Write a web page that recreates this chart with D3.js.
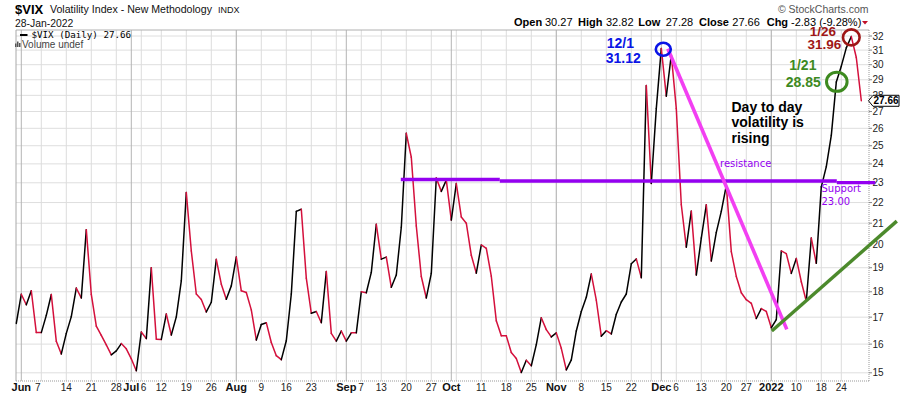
<!DOCTYPE html>
<html><head><meta charset="utf-8">
<script src="https://cdn.jsdelivr.net/npm/d3@7/dist/d3.min.js"></script>
<style>body{margin:0;background:#fff} svg{display:block;font-family:"Liberation Sans",Arial,sans-serif}</style>
</head><body><svg id="c" width="900" height="396"></svg>
<script>
// ---------- DATA ----------
const dates = ("2021-05-28 " +
 "2021-06-01 2021-06-02 2021-06-03 2021-06-04 2021-06-07 2021-06-08 2021-06-09 2021-06-10 2021-06-11 2021-06-14 2021-06-15 2021-06-16 2021-06-17 2021-06-18 2021-06-21 2021-06-22 2021-06-23 2021-06-24 2021-06-25 2021-06-28 2021-06-29 2021-06-30 " +
 "2021-07-01 2021-07-02 2021-07-06 2021-07-07 2021-07-08 2021-07-09 2021-07-12 2021-07-13 2021-07-14 2021-07-15 2021-07-16 2021-07-19 2021-07-20 2021-07-21 2021-07-22 2021-07-23 2021-07-26 2021-07-27 2021-07-28 2021-07-29 2021-07-30 " +
 "2021-08-02 2021-08-03 2021-08-04 2021-08-05 2021-08-06 2021-08-09 2021-08-10 2021-08-11 2021-08-12 2021-08-13 2021-08-16 2021-08-17 2021-08-18 2021-08-19 2021-08-20 2021-08-23 2021-08-24 2021-08-25 2021-08-26 2021-08-27 2021-08-30 2021-08-31 " +
 "2021-09-01 2021-09-02 2021-09-03 2021-09-07 2021-09-08 2021-09-09 2021-09-10 2021-09-13 2021-09-14 2021-09-15 2021-09-16 2021-09-17 2021-09-20 2021-09-21 2021-09-22 2021-09-23 2021-09-24 2021-09-27 2021-09-28 2021-09-29 2021-09-30 " +
 "2021-10-01 2021-10-04 2021-10-05 2021-10-06 2021-10-07 2021-10-08 2021-10-11 2021-10-12 2021-10-13 2021-10-14 2021-10-15 2021-10-18 2021-10-19 2021-10-20 2021-10-21 2021-10-22 2021-10-25 2021-10-26 2021-10-27 2021-10-28 2021-10-29 " +
 "2021-11-01 2021-11-02 2021-11-03 2021-11-04 2021-11-05 2021-11-08 2021-11-09 2021-11-10 2021-11-11 2021-11-12 2021-11-15 2021-11-16 2021-11-17 2021-11-18 2021-11-19 2021-11-22 2021-11-23 2021-11-24 2021-11-26 2021-11-29 2021-11-30 " +
 "2021-12-01 2021-12-02 2021-12-03 2021-12-06 2021-12-07 2021-12-08 2021-12-09 2021-12-10 2021-12-13 2021-12-14 2021-12-15 2021-12-16 2021-12-17 2021-12-20 2021-12-21 2021-12-22 2021-12-23 2021-12-27 2021-12-28 2021-12-29 2021-12-30 2021-12-31 " +
 "2022-01-03 2022-01-04 2022-01-05 2022-01-06 2022-01-07 2022-01-10 2022-01-11 2022-01-12 2022-01-13 2022-01-14 2022-01-18 2022-01-19 2022-01-20 2022-01-21 2022-01-24 2022-01-25 2022-01-26 2022-01-27 2022-01-28").split(" ");

const closes = [16.76,
 17.90,17.48,18.04,16.42,16.42,17.07,17.89,16.10,15.65,16.39,17.02,18.15,17.75,20.70,17.89,16.66,16.32,15.97,15.62,15.76,16.02,15.83,
 15.48,15.07,16.44,16.20,19.00,16.18,16.17,17.12,16.33,17.01,18.45,22.50,19.73,17.91,17.69,17.20,17.58,19.36,18.31,17.70,18.24,
 19.46,18.04,17.97,17.28,16.15,16.72,16.79,16.06,15.59,15.45,16.12,17.91,21.57,21.67,18.56,17.15,17.22,16.79,18.84,16.39,16.11,16.48,
 16.11,16.41,16.41,18.00,17.96,18.80,20.95,19.37,19.46,18.18,18.69,20.81,25.71,24.36,20.87,18.63,17.75,18.76,23.25,22.56,23.14,
 21.15,22.96,21.30,21.00,19.54,18.77,20.00,19.85,18.64,16.86,16.30,16.30,15.70,15.49,15.01,15.43,15.24,15.98,16.98,16.53,16.26,
 16.41,15.85,15.10,15.44,16.48,17.22,17.78,18.73,17.66,16.29,16.49,16.37,17.11,17.59,17.91,19.17,19.38,18.58,28.62,22.96,27.19,
 31.12,27.95,30.67,27.18,21.89,19.90,21.58,18.69,20.31,21.89,19.29,20.57,21.57,22.87,19.70,18.63,17.96,17.68,17.54,16.95,17.33,17.22,
 16.60,16.91,19.73,19.61,18.76,19.40,18.41,17.62,20.31,19.19,22.79,23.85,25.59,28.85,29.90,31.16,31.96,30.49,27.66];

const monthTicks  = ["2021-06-01","2021-07-01","2021-08-02","2021-09-01","2021-10-01","2021-11-01","2021-12-01","2022-01-03"];
const monthLabels = ["Jun","Jul","Aug","Sep","Oct","Nov","Dec","2022"];
const weekTicks = ["2021-06-07","2021-06-14","2021-06-21","2021-06-28","2021-07-06","2021-07-12","2021-07-19","2021-07-26",
 "2021-08-02","2021-08-09","2021-08-16","2021-08-23","2021-08-30","2021-09-07","2021-09-13","2021-09-20","2021-09-27",
 "2021-10-04","2021-10-11","2021-10-18","2021-10-25","2021-11-01","2021-11-08","2021-11-15","2021-11-22","2021-11-29",
 "2021-12-06","2021-12-13","2021-12-20","2021-12-27","2022-01-03","2022-01-10","2022-01-18","2022-01-24"];
const unlabeledWeeks = ["2021-08-30","2021-10-04","2021-11-29"];
const yTicks = [15,16,17,18,19,20,21,22,23,24,25,26,27,28,29,30,31,32];

const ohlcLabels = ["Open","High","Low","Close","Chg"];
const ohlcValues = ["30.27","32.82","27.28","27.66","-2.83 (-9.28%)"];
const lastClose = 27.66;

// annotation anchors in data space: [date, trading-day offset, value]
const resistanceSegs = [[["2021-09-17",-0.1,23.17],["2021-10-14",0.7,23.17]],
                        [["2021-10-14",0.7,23.09],["2022-01-21",0.1,23.09]],
                        [["2022-01-21",0.1,23.01],["2022-01-28",2.8,23.01]]];
const downTrend = [["2021-12-02",0.3,31.1],["2022-01-06",0.1,16.54]];
const upTrend   = [["2022-01-03",0.1,16.48],["2022-01-28",7.1,21.1]];
const circles = [{at:["2021-12-01",0.4,31.06],rx:7.5,ry:6.5,c:"#0a14e6"},
                 {at:["2022-01-21",0.1,28.87],rx:10.3,ry:9.6,c:"#3d8a1f"},
                 {at:["2022-01-26",0,31.9],rx:8.3,ry:8,c:"#9e1616"}];

// ---------- SCALES ----------
const L=16, R=869, T=30, B=381;
const idx = new Map(dates.map((d,i)=>[d,i]));
const x = d3.scaleLinear().domain([0, dates.length-1]).range([16.3, 16.3+5*(dates.length-1)]);
const y = d3.scaleLog().domain([15,32]).range([372.8,36]);
const px = a => x(idx.get(a[0]) + a[1]);
const py = a => y(a[2]);

const svg = d3.select("#c");

// ---------- GRID ----------
const g = svg.append("g");
g.selectAll("line.h").data(yTicks).join("line")
  .attr("x1",L).attr("x2",R).attr("y1",d=>y(d)).attr("y2",d=>y(d))
  .attr("stroke","#dedede").attr("stroke-width",1);
g.selectAll("line.w").data(weekTicks).join("line")
  .attr("x1",d=>x(idx.get(d))).attr("x2",d=>x(idx.get(d))).attr("y1",T).attr("y2",B)
  .attr("stroke","#dcdcdc").attr("stroke-width",1);
g.selectAll("line.m").data(monthTicks).join("line")
  .attr("x1",d=>x(idx.get(d))).attr("x2",d=>x(idx.get(d))).attr("y1",T).attr("y2",B)
  .attr("stroke","#b4b4b4").attr("stroke-width",1);
// frame
svg.append("line").attr("x1",L).attr("x2",R).attr("y1",T).attr("y2",T).attr("stroke","#b0b0b0");
svg.append("line").attr("x1",L).attr("x2",L).attr("y1",T).attr("y2",B).attr("stroke","#a8a8a8");
svg.append("line").attr("x1",R).attr("x2",R).attr("y1",T).attr("y2",B).attr("stroke","#999").attr("stroke-dasharray","1,1");
svg.append("line").attr("x1",L).attr("x2",R).attr("y1",B).attr("y2",B).attr("stroke","#999").attr("stroke-dasharray","1,1");

// right axis
const ra = svg.append("g");
ra.selectAll("line").data(yTicks).join("line")
  .attr("x1",R).attr("x2",R+3).attr("y1",d=>y(d)).attr("y2",d=>y(d)).attr("stroke","#888");
ra.selectAll("text").data(yTicks).join("text")
  .attr("x",R+3.5).attr("y",d=>y(d)).attr("dy","0.35em")
  .attr("font-size",10).attr("fill","#222").text(d=>d);

// bottom axis labels
const xa = svg.append("g");
const monthRight = [];
monthTicks.forEach((d,i)=>{
  const t = xa.append("text").attr("x",x(idx.get(d))).attr("y",391).attr("text-anchor","middle")
    .attr("font-size",11).attr("font-weight","bold").attr("fill","#111").text(monthLabels[i]);
  const w = t.node().getComputedTextLength();
  monthRight.push([idx.get(d), x(idx.get(d))+w/2]);
});
weekTicks.filter(d=>!monthTicks.includes(d) && !unlabeledWeeks.includes(d)).forEach(d=>{
  const i = idx.get(d);
  const prev = monthRight.filter(m=>m[0]<i && i-m[0]<=4);
  const t = xa.append("text").attr("y",391).attr("font-size",10).attr("fill","#222").text(+d.slice(8));
  if (prev.length) t.attr("x",Math.max(prev[prev.length-1][1]+1.5, Math.min(x(i)-3, prev[prev.length-1][1]+4))).attr("text-anchor","start");
  else t.attr("x",x(i)).attr("text-anchor","middle");
});

// ---------- PRICE LINE ----------
svg.append("g").selectAll("line").data(d3.range(1,closes.length)).join("line")
  .attr("x1",i=>x(i-1)).attr("y1",i=>y(closes[i-1]))
  .attr("x2",i=>x(i)).attr("y2",i=>y(closes[i]))
  .attr("stroke",i=>closes[i]>closes[i-1]?"#000":"#d4103c")
  .attr("stroke-width",1.5).attr("stroke-linecap","round");

// ---------- ANNOTATIONS ----------
const ann = svg.append("g");
resistanceSegs.forEach(s=>{
  ann.append("line").attr("x1",px(s[0])).attr("y1",py(s[0])).attr("x2",px(s[1])).attr("y2",py(s[1]))
    .attr("stroke","#9400f0").attr("stroke-width",3.4);
});
ann.append("line").attr("x1",px(downTrend[0])).attr("y1",py(downTrend[0])).attr("x2",px(downTrend[1])).attr("y2",py(downTrend[1]))
  .attr("stroke","#f23ff2").attr("stroke-width",3.6);
ann.append("line").attr("x1",px(upTrend[0])).attr("y1",py(upTrend[0])).attr("x2",px(upTrend[1])).attr("y2",py(upTrend[1]))
  .attr("stroke","#4c8a2c").attr("stroke-width",3.4);
circles.forEach(c=>{
  ann.append("ellipse").attr("cx",px(c.at)).attr("cy",py(c.at)).attr("rx",c.rx).attr("ry",c.ry)
    .attr("fill","none").attr("stroke",c.c).attr("stroke-width",c.rx>9?3:2.6);
});

function label(txt, xx, yy, opt){
  const t = ann.append("text").attr("x",xx).attr("y",yy).text(txt)
    .attr("font-size",opt.size||14).attr("font-weight",opt.bold===false?"normal":"bold")
    .attr("fill",opt.fill||"#000").attr("text-anchor",opt.anchor||"start");
  if (opt.family) t.attr("font-family",opt.family);
  return t;
}
const dec1 = [x(idx.get("2021-12-01")), y(31.12)];
label("12/1", dec1[0]-54.5, dec1[1]-0.5, {fill:"#0a14e6"});
label("31.12", dec1[0]-55.5, dec1[1]+15, {fill:"#0a14e6"});
const j21 = [x(idx.get("2022-01-21")), y(28.85)];
label("1/21", j21[0]-33.5, j21[1]-12, {fill:"#3d8a1f", anchor:"middle"});
label("28.85", j21[0]-33, j21[1]+4.5, {fill:"#3d8a1f", anchor:"middle"});
const j26 = [x(idx.get("2022-01-26")), y(31.96)];
label("1/26", j26[0]-28.5, j26[1]-0.2, {fill:"#9e1616", anchor:"middle", size:13.5});
label("31.96", j26[0]-27, j26[1]+12, {fill:"#9e1616", anchor:"middle", size:13.5});
label("Day to day", 731.5, 111.5, {});
label("volatility is", 731.5, 127, {});
label("rising", 731.5, 142.5, {});
label("resistance", 720, 166.5, {size:10, bold:false, fill:"#9400f0", family:"DejaVu Sans"});
label("Support", 821.5, 192, {size:10, bold:false, fill:"#9400f0", family:"DejaVu Sans"});
label("23.00", 821.5, 205, {size:10, bold:false, fill:"#9400f0", family:"DejaVu Sans"});

// last value tag
const yl = y(lastClose);
svg.append("path").attr("d",`M${R-0.5},${yl} L${R+4},${yl-5.5} L899,${yl-5.5} L899,${yl+5.5} L${R+4},${yl+5.5} Z`)
  .attr("fill","#fff").attr("stroke","#000").attr("stroke-width",1);
svg.append("text").attr("x",886).attr("y",yl).attr("dy","0.36em").attr("text-anchor","middle")
  .attr("font-size",10).attr("font-weight","bold").text(lastClose.toFixed(2));

// ---------- HEADER ----------
const hd = svg.append("g");
hd.append("text").attr("x",15).attr("y",13.5).attr("font-size",13).attr("font-weight","bold").text("$VIX");
hd.append("text").attr("x",50).attr("y",13).attr("font-size",10.6).attr("fill","#111").text("Volatility Index - New Methodology");
hd.append("text").attr("x",218).attr("y",13).attr("font-size",9).attr("fill","#111").text("INDX");
hd.append("text").attr("x",15).attr("y",26.5).attr("font-size",10.4).attr("fill","#111").text("28-Jan-2022");
hd.append("text").attr("x",868.5).attr("y",12.5).attr("font-size",10.5).attr("fill","#555").attr("text-anchor","end").text("\u00A9 StockCharts.com");
const lx = [514,578,638.3,699,766.7], vx = [545,606,665.7,732.3,791];
ohlcLabels.forEach((l,i)=>{
  hd.append("text").attr("x",lx[i]).attr("y",26).attr("font-size",11).attr("font-weight","bold").text(l);
  hd.append("text").attr("x",vx[i]).attr("y",26).attr("font-size",11).text(ohlcValues[i]);
});
hd.append("path").attr("d","M862,21 L868,21 L865,24.5 Z").attr("fill","#c0102a");

// legend
hd.append("line").attr("x1",20).attr("x2",27.5).attr("y1",35).attr("y2",35).attr("stroke","#000").attr("stroke-width",2);
hd.append("text").attr("x",31.5).attr("y",38).attr("font-size",9.2).attr("font-family","DejaVu Sans Mono").attr("fill","#000")
  .text("$VIX (Daily) " + lastClose.toFixed(2));
[[15,43.5],[17,41.5],[19,43]].forEach(b=>{
  hd.append("rect").attr("x",b[0]).attr("y",b[1]).attr("width",1.5).attr("height",47-b[1]).attr("fill","#555");
});
hd.append("text").attr("x",22).attr("y",47.5).attr("font-size",10).attr("fill","#444").text("Volume undef");
</script></body></html>
